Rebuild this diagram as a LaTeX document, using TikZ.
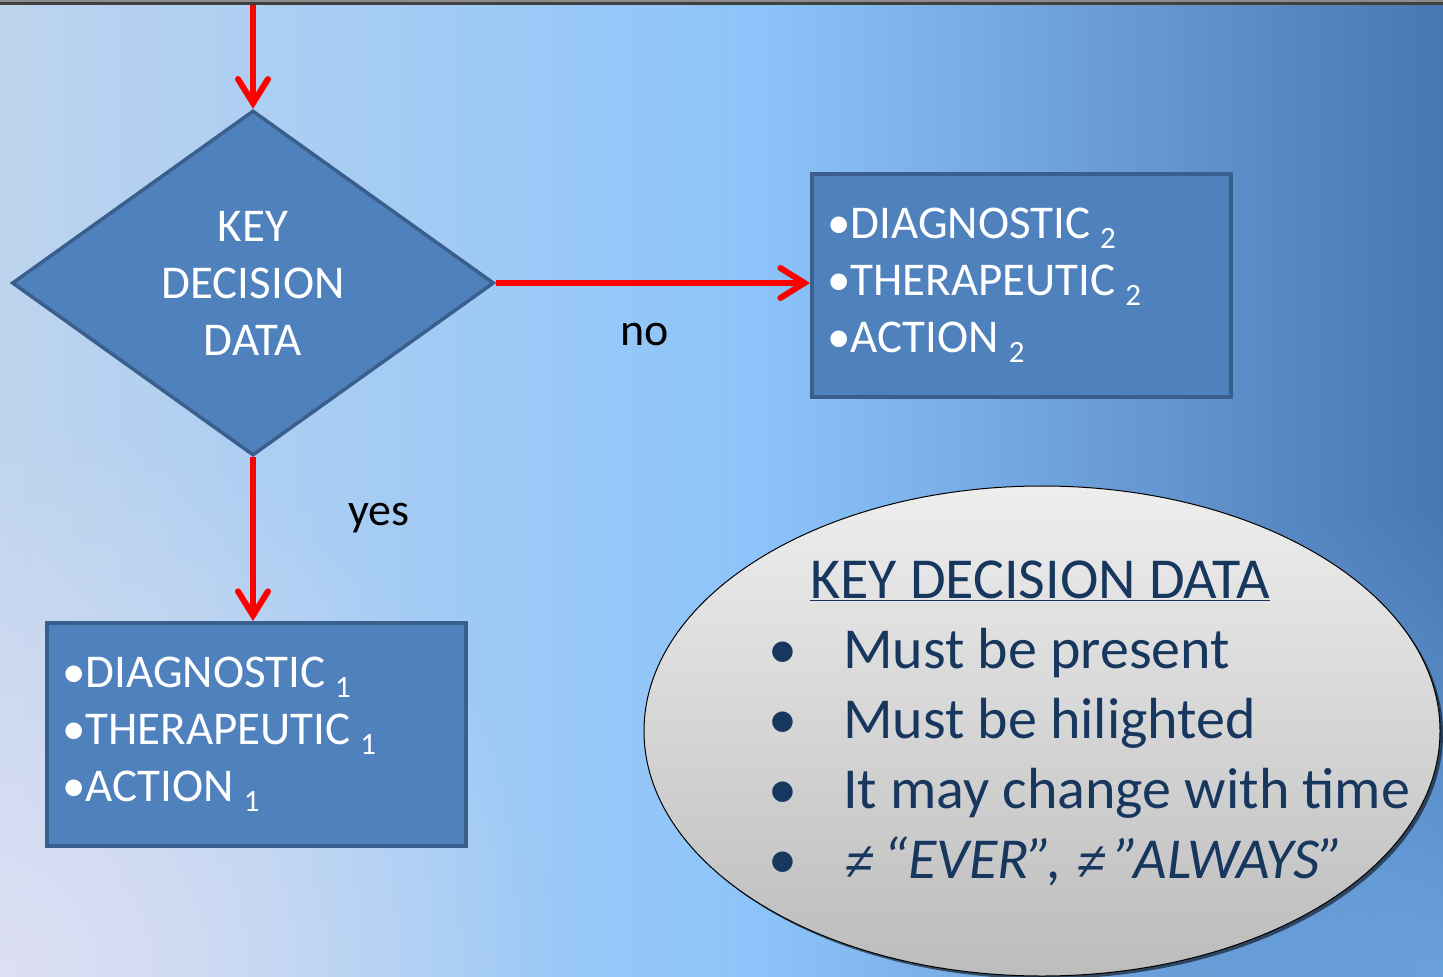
\documentclass[tikz,border=0pt]{standalone}
\usepackage{fontspec}
\setmainfont{Carlito}
\newfontfamily\neqfont[FakeSlant=0.18]{Liberation Sans}
\usetikzlibrary{shapes.geometric,arrows.meta,shadows,fadings}
\definecolor{boxfill}{HTML}{4F81BD}
\definecolor{boxline}{HTML}{3A5F8C}
\definecolor{navy}{HTML}{17375E}
\definecolor{bgL}{RGB}{190,212,238}
\definecolor{bgM}{RGB}{140,196,250}
\definecolor{bgR}{RGB}{72,118,178}
\definecolor{bgLL}{RGB}{222,224,244}
\definecolor{bgRB}{RGB}{120,180,240}
\definecolor{ellT}{RGB}{238,238,238}
\definecolor{ellB}{RGB}{188,188,188}
\tikzfading[name=radfade, inner color=transparent!0, outer color=transparent!100]
\newcommand\subidx[1]{\hspace{10pt}\raisebox{-10pt}{\fontsize{31}{31}\selectfont #1}}
\newcommand\neqsym{{\neqfont\fontsize{50}{70}\selectfont ≠}}
\begin{document}
\begin{tikzpicture}[x=1pt,y=-1pt,
  redarrow/.style={draw=red, line width=6pt, -{Straight Barb[length=24pt,width=30pt,line cap=round]}},
  flowbox/.style={rectangle, draw=boxline, line width=4pt, fill=boxfill, text=white,
     minimum width=419pt, minimum height=223pt, text width=389pt, inner xsep=15pt,
     align=left, font=\fontsize{47}{57}\selectfont},
  lbl/.style={text=black, font=\fontsize{46}{50}\selectfont, inner sep=0pt},
  elltext/.style={text=navy, font=\fontsize{58}{70}\selectfont, inner sep=0pt, anchor=base west}
]
\useasboundingbox (0,0) rectangle (1443,977);
% background
\shade[left color=bgL, right color=bgM] (0,0) rectangle (760,977);
\shade[left color=bgM, right color=bgR] (760,0) rectangle (1443,977);
\fill[bgLL, path fading=radfade] (0,977) circle (560);
\fill[bgRB, path fading=radfade, opacity=0.7] (1443,977) circle (480);
\fill[black!75] (0,0) rectangle (1443,5);
\fill[black!45] (0,0) rectangle (1443,2);

% diamond
\node[diamond, draw=boxline, line width=3.5pt, fill=boxfill, aspect=1.4,
  minimum width=482pt, minimum height=345pt, inner sep=0pt, text=white, align=center,
  font=\fontsize{47}{57}\selectfont] (dec) at (253,283) {KEY\\DECISION\\DATA};

% boxes
\node[flowbox, anchor=north west] (b2) at (810,172)
  {•DIAGNOSTIC\subidx{2}\\•THERAPEUTIC\subidx{2}\\•ACTION\subidx{2}};
\node[flowbox, anchor=north west] (b1) at (45,621)
  {•DIAGNOSTIC\subidx{1}\\•THERAPEUTIC\subidx{1}\\•ACTION\subidx{1}};

% arrows
\coordinate (start) at (253,5);
\draw[redarrow] (start) -- (dec.north);
\draw[redarrow] (dec.east) -- (b2.west |- dec.east);
\draw[redarrow] (dec.south) -- (dec.south |- b1.north);

\node[lbl, anchor=base west] (no) at (620,345) {no};
\node[lbl, anchor=base west] (yes) at (348,525) {yes};

% ellipse
\node[ellipse, draw=black, line width=1pt, top color=ellT, bottom color=ellB,
  minimum width=796pt, minimum height=490pt,
  drop shadow={shadow xshift=3pt, shadow yshift=-3pt, fill=black, opacity=0.55}] (ell) at (1042,731) {};

\node[elltext] (title) at (810,598) {\underline{KEY DECISION DATA}};
\node[elltext] (d1) at (768,668) {•};
\node[elltext] (t1) at (843,668) {Must be present};
\node[elltext] (d2) at (768,738) {•};
\node[elltext] (t2) at (843,738) {Must be hilighted};
\node[elltext] (d3) at (768,808) {•};
\node[elltext] (t3) at (843,808) {It may change with time};
\node[elltext] (d4) at (768,878) {•};
\node[elltext] (t4) at (843,878) {\itshape \neqsym{} “EVER”, \neqsym{} ”ALWAYS”};
\end{tikzpicture}
\end{document}
